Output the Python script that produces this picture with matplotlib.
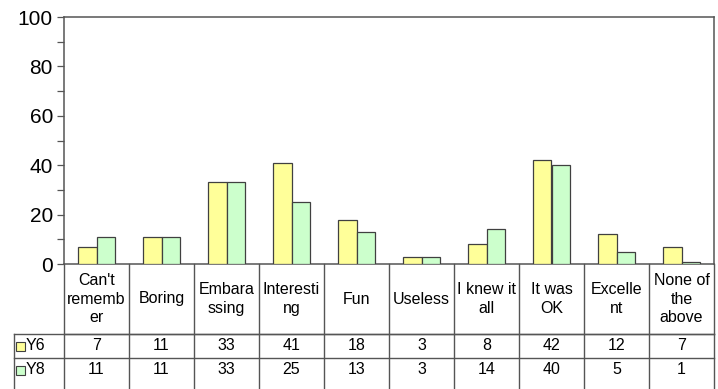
import numpy as np
import matplotlib.pyplot as plt

plt.rcParams['font.family'] = ['Liberation Sans', 'DejaVu Sans']

categories = ["Can't\nrememb\ner", "Boring", "Embara\nssing", "Interesti\nng", "Fun",
              "Useless", "I knew it\nall", "It was\nOK", "Excelle\nnt", "None of\nthe\nabove"]
y6 = [7, 11, 33, 41, 18, 3, 8, 42, 12, 7]
y8 = [11, 11, 33, 25, 13, 3, 14, 40, 5, 1]
series_names = ["Y6", "Y8"]
colors = ["#FFFF99", "#CCFFCC"]
edge = "#404040"
line_col = "#555555"

W, H = 718, 389
fig = plt.figure(figsize=(W / 100, H / 100), dpi=100)

# plot area in pixel terms
x0, x1 = 64, 714
ytop, ybot = 17, 264
ax = fig.add_axes([x0 / W, 1 - ybot / H, (x1 - x0) / W, (ybot - ytop) / H])

n = len(categories)
x = np.arange(n) + 0.5
bw = 0.285
ax.bar(x - bw / 2, y6, bw, color=colors[0], edgecolor=edge, linewidth=0.9, zorder=3)
ax.bar(x + bw / 2, y8, bw, color=colors[1], edgecolor=edge, linewidth=0.9, zorder=3)

ax.set_xlim(0, n)
ax.set_ylim(0, 100)
ax.set_yticks(np.arange(0, 101, 20))
ax.set_yticks(np.arange(10, 100, 20), minor=True)
ax.tick_params(axis='y', which='both', direction='out', length=5, width=0.9,
               color=line_col, labelsize=15, pad=3)
ax.set_xticks([])
for s in ax.spines.values():
    s.set_color(line_col)
    s.set_linewidth(1.1)

# data table below the plot
tax = fig.add_axes([x0 / W, 0, (x1 - x0) / W, (H - ybot) / H])
tax.set_xlim(0, n)
tax.set_ylim(H - ybot, 0)
tax.axis('off')
hdr, r1 = 70, 94
bottom = H - ybot
cw = (x1 - x0) / n
leg_left = -(x0 - 14) / cw

lk = dict(color=line_col, linewidth=1.0, clip_on=False)
for i in range(n + 1):
    tax.plot([i, i], [0, bottom], **lk)
tax.plot([0, n], [hdr, hdr], **lk)
tax.plot([leg_left, n], [hdr, hdr], **lk)
tax.plot([leg_left, n], [r1, r1], **lk)
tax.plot([leg_left, leg_left], [hdr, bottom], **lk)

fs = 11.5
for i, lab in enumerate(categories):
    tax.text(i + 0.5, hdr / 2, lab, ha='center', va='center', fontsize=fs,
             linespacing=1.32, multialignment='center')

rows = [82, 106]
for vals, yc, name, c in zip([y6, y8], rows, series_names, colors):
    for i, v in enumerate(vals):
        tax.text(i + 0.5, yc, str(v), ha='center', va='center', fontsize=fs)
    sq = 9 / cw
    tax.add_patch(plt.Rectangle((leg_left + 2.5 / cw, yc + 4.5), sq, -9,
                                facecolor=c, edgecolor=edge, linewidth=0.8, clip_on=False))
    tax.text(leg_left + 12 / cw, yc, name, ha='left', va='center', fontsize=fs)

fig.savefig("out.png", dpi=100)
